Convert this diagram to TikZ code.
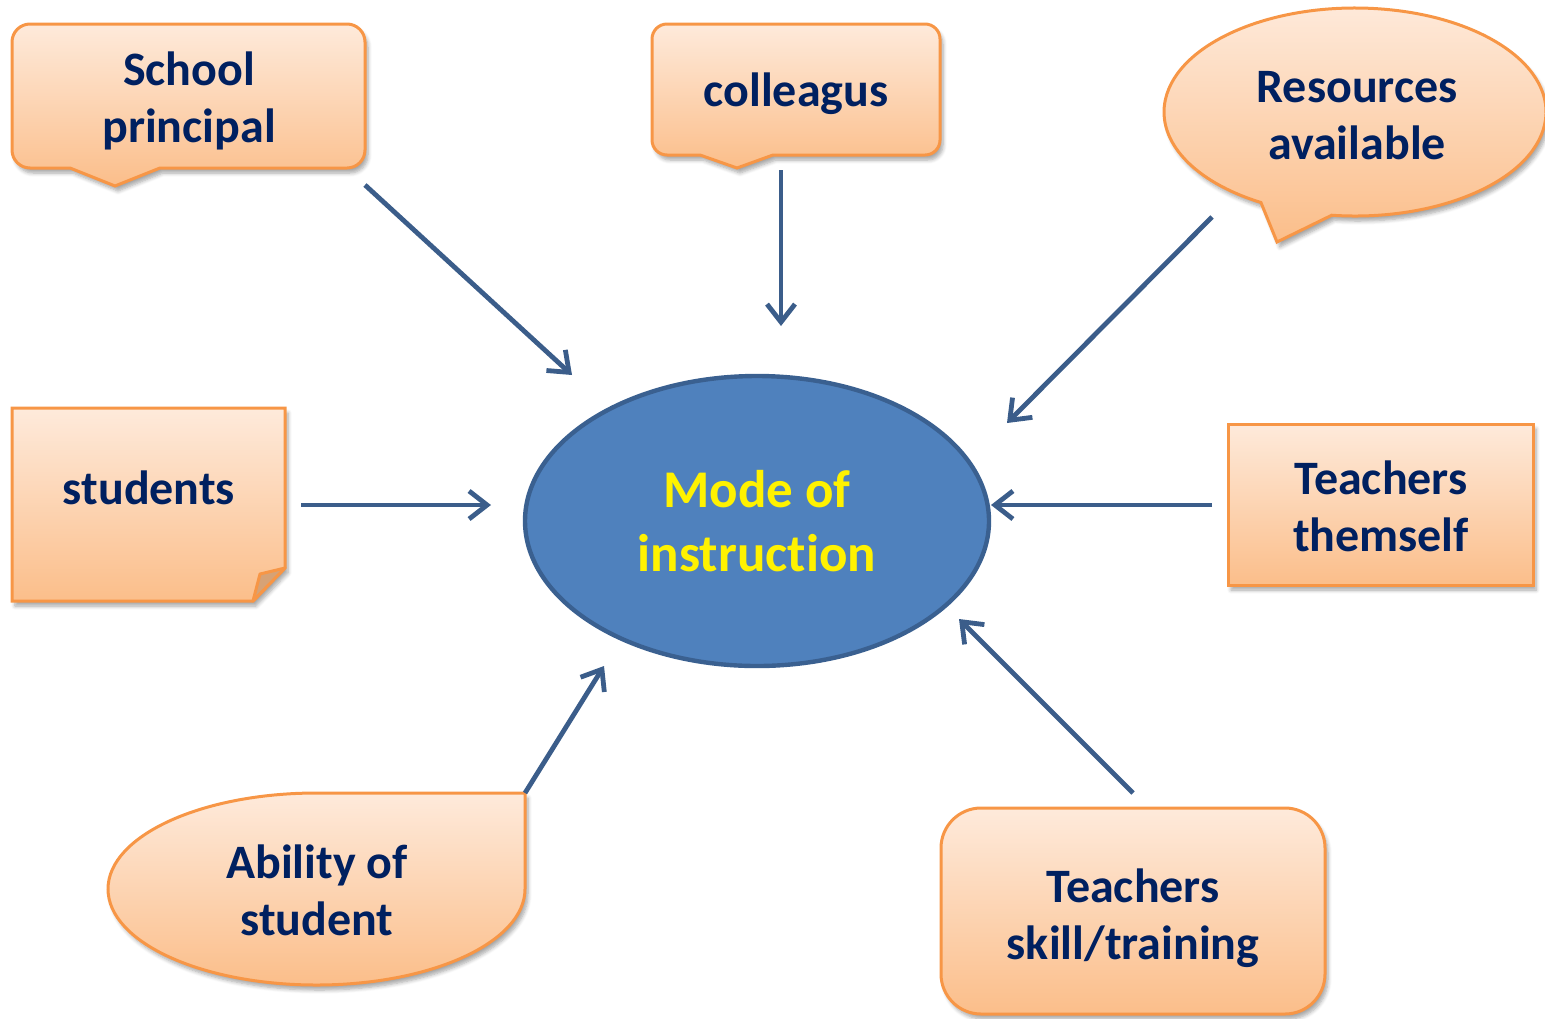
\documentclass[tikz,border=0pt]{standalone}
\usepackage{fontspec}
\setmainfont{Carlito}[Ligatures=NoCommon]
\usetikzlibrary{arrows.meta,shapes.geometric,shadows.blur}

\definecolor{boxline}{HTML}{F79646}
\definecolor{boxtop}{HTML}{FEEADB}
\definecolor{boxbottom}{HTML}{FBBE8A}
\definecolor{boxfold}{HTML}{D6A276}
\definecolor{labeltext}{HTML}{002060}
\definecolor{modefill}{HTML}{4F81BD}
\definecolor{modeline}{HTML}{3A6090}
\definecolor{arrowline}{HTML}{3B5D8A}

\tikzset{
    bubble/.style={draw=boxline, line width=1.5pt, top color=boxtop, bottom color=boxbottom,
        blur shadow={shadow xshift=1.5pt, shadow yshift=-2.5pt, shadow blur steps=6, shadow opacity=35}},
    caption/.style={text=labeltext, align=center,
        font=\bfseries\fontsize{24}{28.5}\selectfont},
    mode/.style={ellipse, draw=modeline, line width=2.2pt, fill=modefill, text=yellow,
        minimum width=232pt, minimum height=145pt, inner sep=0pt, align=center,
        font=\bfseries\fontsize{26.5}{32}\selectfont},
    link/.style={->, draw=arrowline, line width=2.4pt}
}

\begin{document}
\begin{tikzpicture}[x=0.5pt, y=-0.5pt, >={Straight Barb[length=9pt,width=14pt]}]
                \useasboundingbox (0,0) rectangle (1545,1018);

                % shapes
                \draw[bubble] (12,42) arc[start angle=180,end angle=270,radius=18]
                    -- (347,24) arc[start angle=270,end angle=360,radius=18]
                    -- (365,150) arc[start angle=0,end angle=90,radius=18]
                    -- (160,168) -- (115,186) -- (70,168)
                    -- (30,168) arc[start angle=90,end angle=180,radius=18] -- cycle;
                \draw[bubble] (652,39) arc[start angle=180,end angle=270,radius=15]
                    -- (925,24) arc[start angle=270,end angle=360,radius=15]
                    -- (940,140) arc[start angle=0,end angle=90,radius=15]
                    -- (773,155) -- (737,168) -- (700,155)
                    -- (667,155) arc[start angle=90,end angle=180,radius=15] -- cycle;
                \draw[bubble] (1277,242) -- ([shift={(1355,112)}]97:191 and 104)
                    arc[start angle=97,end angle=-240.5,x radius=191,y radius=104] -- cycle;
                \draw[bubble] (12,408) -- (285,408) -- (285,568) -- (253,601) -- (12,601) -- cycle;
                \draw[draw=boxline, line width=1.5pt, fill=boxfold, line join=round]
                    (285,568) -- (260,574) -- (253,601) -- cycle;
                \draw[bubble] (1228,424) rectangle (1533,585);
                \draw[bubble] (525,793) -- (525,889)
                    arc[start angle=0,end angle=270,x radius=208.5,y radius=96] -- cycle;
                \draw[bubble, rounded corners=20pt] (941,808) rectangle (1325,1014);

                % labels
                \node[mode] (mode) at (757,521) {Mode of\\instruction};
                \node[caption] (principal) at (189,101) {School\\principal};
                \node[caption] (colleagus) at (796,94) {colleagus};
                \node[caption] (resources) at (1357,116) {Resources\\available};
                \node[caption] (students) at (149,488) {students};
                \node[caption] (themself) at (1381,506) {Teachers\\themself};
                \node[caption] (ability) at (317,890) {Ability of\\student};
                \node[caption] (skill) at (1133,918) {Teachers\\skill/training};

                % arrows
                \coordinate (principal out) at (365,185);
                \coordinate (principal in) at (572,375);
                \coordinate (colleagus out) at (781,170);
                \coordinate (colleagus in) at (781,326);
                \coordinate (resources out) at (1212,217);
                \coordinate (resources in) at (1007,423);
                \coordinate (students out) at (301,505);
                \coordinate (students in) at (491,505);
                \coordinate (themself out) at (1212,505);
                \coordinate (themself in) at (991,505);
                \coordinate (ability out) at (525,793);
                \coordinate (ability in) at (604,666);
                \coordinate (skill out) at (1133,793);
                \coordinate (skill in) at (959,619);
                \draw[link] (principal out) -- (principal in);
                \draw[link] (colleagus out) -- (colleagus in);
                \draw[link] (resources out) -- (resources in);
                \draw[link] (students out) -- (students in);
                \draw[link] (themself out) -- (themself in);
                \draw[link] (ability out) -- (ability in);
                \draw[link] (skill out) -- (skill in);
            \end{tikzpicture}
\end{document}
